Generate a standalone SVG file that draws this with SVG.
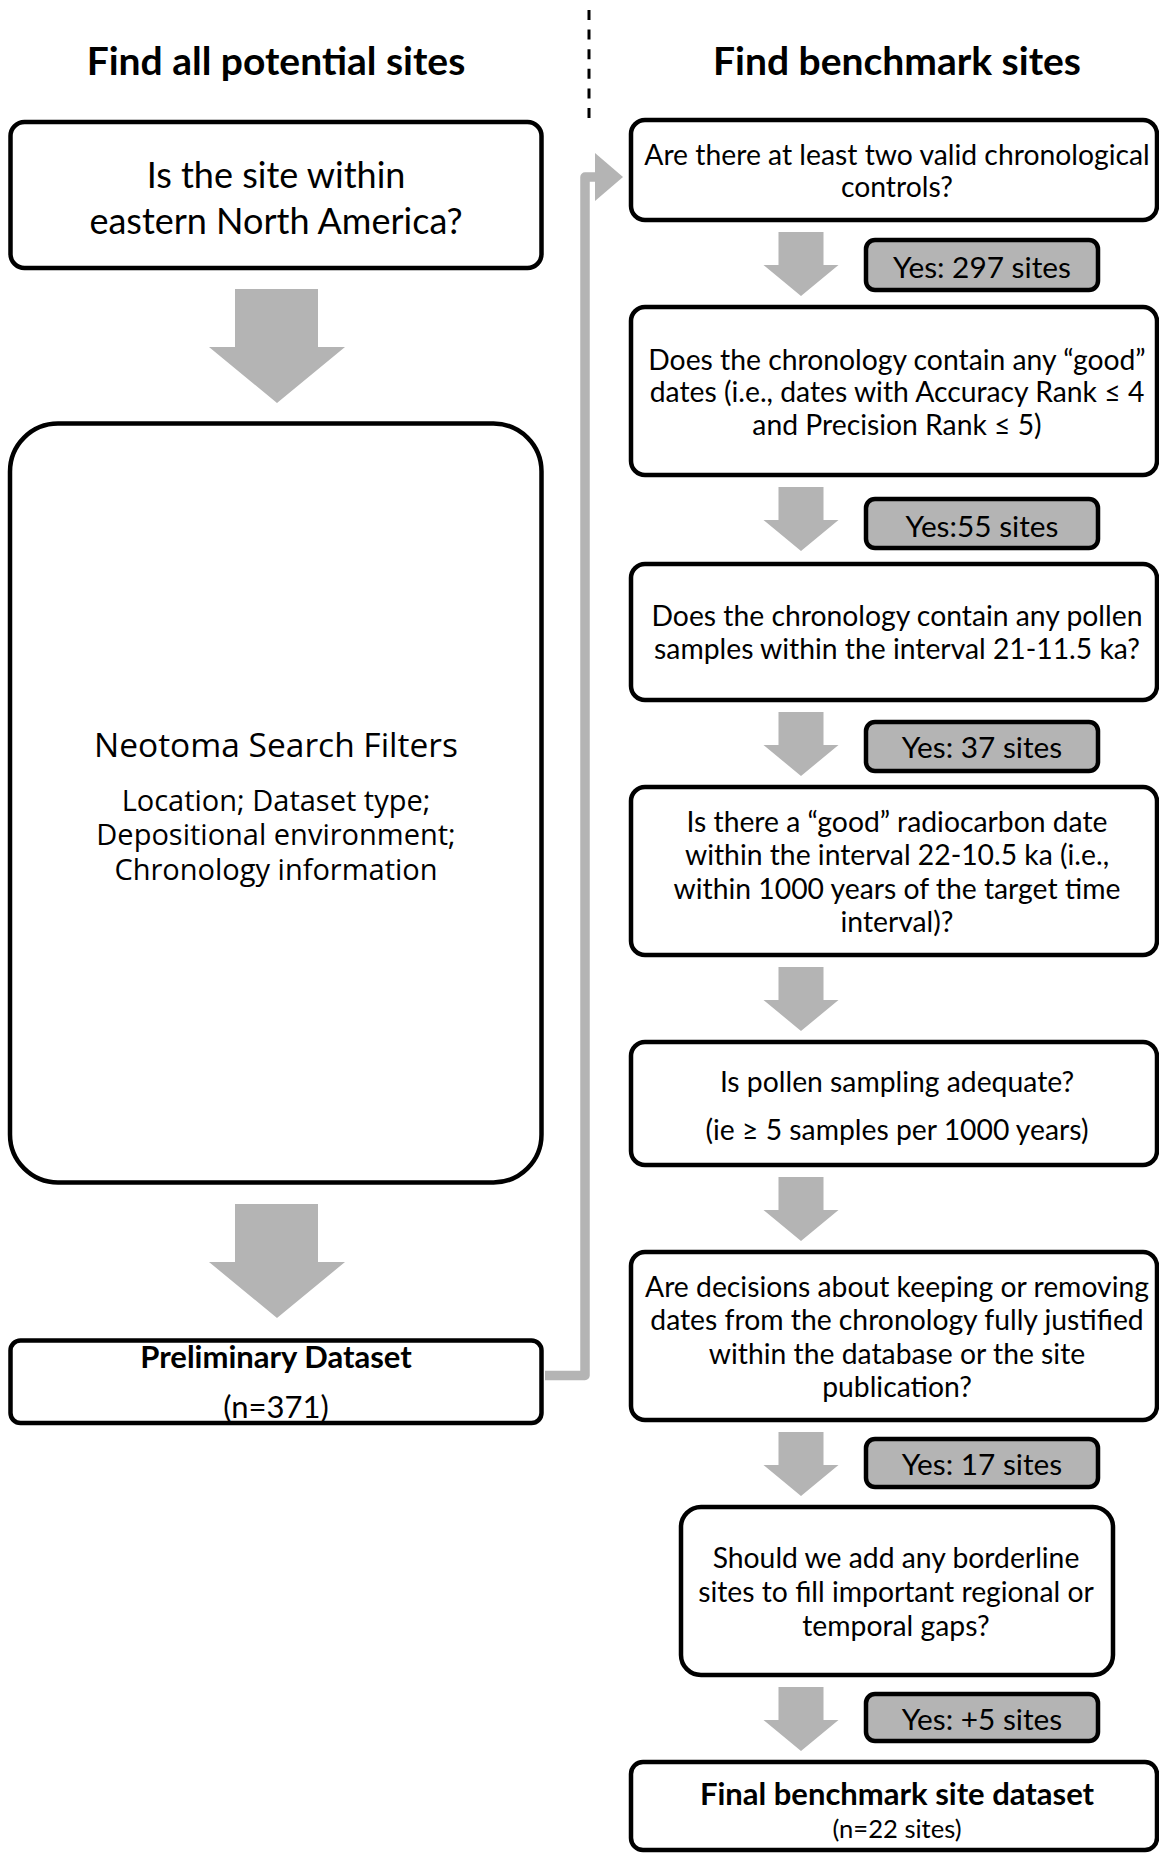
<svg xmlns="http://www.w3.org/2000/svg" width="1159" height="1854" viewBox="0 0 1159 1854">
<style>
.box{fill:#fff;stroke:#000;stroke-width:4.5}
.lab{fill:#b4b4b4;stroke:#000;stroke-width:4.5}
.arr{fill:#b4b4b4}
text{font-family:Lato,"Liberation Sans",sans-serif;fill:#000;text-anchor:middle}
.t{font-size:28.3px}
.tl{font-size:36px}
.title{font-size:39px;font-weight:bold}
.bold{font-size:31px;font-weight:bold}
.lt{font-size:29.8px}
.neo{font-family:"Open Sans",sans-serif;font-size:33.5px}
.neo2{font-family:"Open Sans",sans-serif;font-size:29px}
</style>
<defs>
<polygon id="bigArrow" points="-42,0 41,0 41,58 68,58 0,114 -68,58 -42,58"/>
<polygon id="smArrow" points="-22.5,0 22.5,0 22.5,33 37.5,33 0,64 -37.5,33 -22.5,33"/>
</defs>

<line x1="589" y1="10" x2="589" y2="118" stroke="#000" stroke-width="3" stroke-dasharray="10 9.6"/>
<text class="title" x="276" y="75">Find all potential sites</text>
<text class="title" x="897" y="75">Find benchmark sites</text>

<g id="connectors">
<use href="#bigArrow" class="arr" x="277" y="289"/>
<use href="#bigArrow" class="arr" x="277" y="1204"/>
<path d="M545 1375.5 H585 V177 H597" fill="none" stroke="#b4b4b4" stroke-width="9.5" stroke-linejoin="round"/>
<polygon class="arr" points="595,153 623,177 595,201"/>
<use href="#smArrow" class="arr" x="801" y="232"/>
<use href="#smArrow" class="arr" x="801" y="487"/>
<use href="#smArrow" class="arr" x="801" y="712"/>
<use href="#smArrow" class="arr" x="801" y="967"/>
<use href="#smArrow" class="arr" x="801" y="1177"/>
<use href="#smArrow" class="arr" x="801" y="1432"/>
<use href="#smArrow" class="arr" x="801" y="1687"/>
</g>

<g id="node-region">
<rect class="box" x="10.5" y="122" width="531" height="146" rx="14"/>
<text class="tl" x="276" y="188">Is the site within</text>
<text class="tl" x="276" y="234">eastern North America?</text>
</g>

<g id="node-neotoma">
<rect class="box" x="10" y="423.5" width="531.5" height="759" rx="48" stroke-width="5"/>
<text class="neo" x="276" y="757">Neotoma Search Filters</text>
<text class="neo2" x="276" y="811">Location; Dataset type;</text>
<text class="neo2" x="276" y="845">Depositional environment;</text>
<text class="neo2" x="276" y="880">Chronology information</text>
</g>

<g id="node-preliminary">
<rect class="box" x="10.5" y="1340.5" width="531" height="82.5" rx="10"/>
<text class="bold" x="276" y="1368">Preliminary Dataset</text>
<text class="t" x="276" y="1418" style="font-size:31px">(n=371)</text>
</g>

<g id="node-r1">
<rect class="box" x="631" y="120" width="526" height="100" rx="14"/>
<text class="t" x="897" y="165">Are there at least two valid chronological</text>
<text class="t" x="897" y="197">controls?</text>
</g>
<g id="label-297">
<rect class="lab" x="866" y="240" width="232" height="50" rx="9"/>
<text class="lt" x="982" y="278">Yes: 297 sites</text>
</g>

<g id="node-r2">
<rect class="box" x="631" y="307" width="526" height="168" rx="14"/>
<text class="t" x="897" y="370">Does the chronology contain any “good”</text>
<text class="t" x="897" y="402">dates (i.e., dates with Accuracy Rank ≤ 4</text>
<text class="t" x="897" y="435">and Precision Rank ≤ 5)</text>
</g>
<g id="label-55">
<rect class="lab" x="866" y="499" width="232" height="49" rx="9"/>
<text class="lt" x="982" y="537">Yes:55 sites</text>
</g>

<g id="node-r3">
<rect class="box" x="631" y="564" width="526" height="136" rx="14"/>
<text class="t" x="897" y="626">Does the chronology contain any pollen</text>
<text class="t" x="897" y="659">samples within the interval 21-11.5 ka?</text>
</g>
<g id="label-37">
<rect class="lab" x="866" y="722" width="232" height="49" rx="9"/>
<text class="lt" x="982" y="758">Yes: 37 sites</text>
</g>

<g id="node-r4">
<rect class="box" x="631" y="787" width="526" height="168" rx="14"/>
<text class="t" x="897" y="832">Is there a “good” radiocarbon date</text>
<text class="t" x="897" y="865">within the interval 22-10.5 ka (i.e.,</text>
<text class="t" x="897" y="899">within 1000 years of the target time</text>
<text class="t" x="897" y="932">interval)?</text>
</g>

<g id="node-r5">
<rect class="box" x="631" y="1042" width="526" height="123" rx="14"/>
<text class="t" x="897" y="1092">Is pollen sampling adequate?</text>
<text class="t" x="897" y="1140">(ie ≥ 5 samples per 1000 years)</text>
</g>

<g id="node-r6">
<rect class="box" x="631" y="1252" width="526" height="168" rx="14"/>
<text class="t" x="897" y="1297">Are decisions about keeping or removing</text>
<text class="t" x="897" y="1330">dates from the chronology fully justified</text>
<text class="t" x="897" y="1364">within the database or the site</text>
<text class="t" x="897" y="1397">publication?</text>
</g>
<g id="label-17">
<rect class="lab" x="866" y="1439" width="232" height="48" rx="9"/>
<text class="lt" x="982" y="1475">Yes: 17 sites</text>
</g>

<g id="node-r7">
<rect class="box" x="681" y="1507" width="432" height="168" rx="20"/>
<text class="t" x="896" y="1568">Should we add any borderline</text>
<text class="t" x="896" y="1602">sites to fill important regional or</text>
<text class="t" x="896" y="1636">temporal gaps?</text>
</g>
<g id="label-5">
<rect class="lab" x="866" y="1694" width="232" height="47" rx="9"/>
<text class="lt" x="982" y="1730">Yes: +5 sites</text>
</g>

<g id="node-final">
<rect class="box" x="631" y="1762" width="526" height="88" rx="12"/>
<text class="bold" x="897" y="1805">Final benchmark site dataset</text>
<text class="t" x="897" y="1838" style="font-size:25.6px">(n=22 sites)</text>
</g>
</svg>
